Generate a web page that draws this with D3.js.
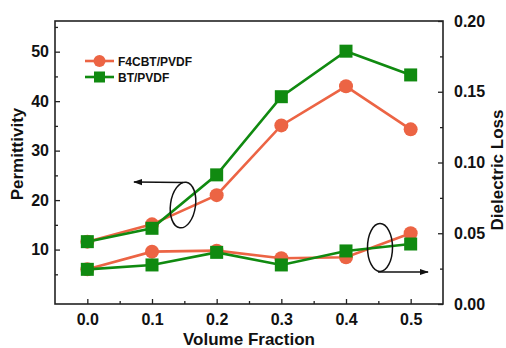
<!DOCTYPE html>
<html>
<head>
<script src="https://cdn.jsdelivr.net/npm/d3@7"></script>
<style>
  body { margin: 0; background: #fff; }
  svg text { font-family: "Liberation Sans", Arial, sans-serif; font-weight: bold; fill: #111; }
</style>
</head>
<body>
<script>
// volume fractions
var fractions = [0.0, 0.1, 0.2, 0.3, 0.4, 0.5];
// permittivity (left axis)
var permF4CBT = [11.6, 15.1, 21.0, 35.1, 43.0, 34.3];
var permBT = [11.6, 14.3, 25.1, 40.9, 50.1, 45.3];
// dielectric loss (right axis)
var lossF4CBT = [0.0245, 0.037, 0.0377, 0.0323, 0.033, 0.050];
var lossBT = [0.0245, 0.0276, 0.0365, 0.0276, 0.0375, 0.0424];

var xTicks = [0.0, 0.1, 0.2, 0.3, 0.4, 0.5];
var leftTicks = [10, 20, 30, 40, 50];
var rightTicks = [0.00, 0.05, 0.10, 0.15, 0.20];

var w = 506, h = 348;
var mLeft = 55, mRight = 443, mTop = 21, mBottom = 304;
var orange = "#ec6444", green = "#108a10";

var svg = d3.select("body").append("svg").attr("width", w).attr("height", h);

var x = d3.scaleLinear().domain([-0.05, 0.55]).range([mLeft, mRight]);
var yL = d3.scaleLinear().domain([-1, 56.2]).range([mBottom, mTop]);
var yR = d3.scaleLinear().domain([0, 0.2]).range([mBottom, mTop]);

// axes with inward ticks
function styleAxis(g) {
  g.select(".domain").remove();
  g.selectAll(".tick line").attr("stroke", "#222").attr("stroke-width", 1.3);
  g.selectAll(".tick text").attr("font-size", 16).attr("fill", "#111");
}

var xMinor = [0.05, 0.15, 0.25, 0.35, 0.45];
svg.append("g").attr("transform", "translate(0," + mBottom + ")")
  .call(d3.axisBottom(x).tickValues(xTicks).tickFormat(d3.format(".1f")).tickSizeInner(-5).tickPadding(10))
  .call(styleAxis);
svg.append("g").attr("transform", "translate(0," + mBottom + ")")
  .call(d3.axisBottom(x).tickValues(xMinor).tickFormat("").tickSizeInner(-3))
  .call(styleAxis);

svg.append("g").attr("transform", "translate(" + mLeft + ",0)")
  .call(d3.axisLeft(yL).tickValues(leftTicks).tickSizeInner(-5).tickPadding(6))
  .call(styleAxis);
svg.append("g").attr("transform", "translate(" + mLeft + ",0)")
  .call(d3.axisLeft(yL).tickValues([5, 15, 25, 35, 45, 55]).tickFormat("").tickSizeInner(-3))
  .call(styleAxis);

svg.append("g").attr("transform", "translate(" + mRight + ",0)")
  .call(d3.axisRight(yR).tickValues(rightTicks).tickFormat(d3.format(".2f")).tickSizeInner(-5).tickPadding(11))
  .call(styleAxis);
svg.append("g").attr("transform", "translate(" + mRight + ",0)")
  .call(d3.axisRight(yR).tickValues([0.025, 0.075, 0.125, 0.175]).tickFormat("").tickSizeInner(-3))
  .call(styleAxis);

// frame
svg.append("rect").attr("x", mLeft).attr("y", mTop)
  .attr("width", mRight - mLeft).attr("height", mBottom - mTop)
  .attr("fill", "none").attr("stroke", "#222").attr("stroke-width", 1.6);

// series
function drawSeries(vals, yScale, color, shape) {
  var pts = fractions.map(function(f, i) { return [x(f), yScale(vals[i])]; });
  svg.append("path").attr("d", d3.line()(pts))
    .attr("fill", "none").attr("stroke", color).attr("stroke-width", 2.6);
  if (shape === "circle") {
    svg.selectAll(null).data(pts).enter().append("circle")
      .attr("cx", function(d) { return d[0]; }).attr("cy", function(d) { return d[1]; })
      .attr("r", 7).attr("fill", color);
  } else {
    svg.selectAll(null).data(pts).enter().append("rect")
      .attr("x", function(d) { return d[0] - 6.5; }).attr("y", function(d) { return d[1] - 6.5; })
      .attr("width", 13).attr("height", 13).attr("fill", color);
  }
}
drawSeries(lossF4CBT, yR, orange, "circle");
drawSeries(lossBT, yR, green, "square");
drawSeries(permF4CBT, yL, orange, "circle");
drawSeries(permBT, yL, green, "square");

// legend
var legend = [["F4CBT/PVDF", orange, "circle"], ["BT/PVDF", green, "square"]];
legend.forEach(function(l, i) {
  var ly = 61 + i * 16;
  svg.append("line").attr("x1", 85).attr("x2", 114).attr("y1", ly).attr("y2", ly)
    .attr("stroke", l[1]).attr("stroke-width", 2.6);
  if (l[2] === "circle") svg.append("circle").attr("cx", 99.5).attr("cy", ly).attr("r", 6).attr("fill", l[1]);
  else svg.append("rect").attr("x", 94).attr("y", ly - 5.5).attr("width", 11).attr("height", 11).attr("fill", l[1]);
  svg.append("text").attr("x", 118).attr("y", ly + 4.5).attr("font-size", 12).text(l[0]);
});

// ellipses and arrows
var defs = svg.append("defs");
defs.append("marker").attr("id", "arr").attr("viewBox", "0 0 10 10").attr("refX", 9).attr("refY", 5)
  .attr("markerWidth", 7).attr("markerHeight", 7).attr("orient", "auto")
  .append("path").attr("d", "M0,1.5 L10,5 L0,8.5 z").attr("fill", "#111");

svg.append("ellipse").attr("cx", 183).attr("cy", 205).attr("rx", 12.5).attr("ry", 23)
  .attr("transform", "rotate(8,183,205)")
  .attr("fill", "none").attr("stroke", "#111").attr("stroke-width", 1.5);
svg.append("line").attr("x1", 183).attr("y1", 182.5).attr("x2", 134).attr("y2", 182)
  .attr("stroke", "#111").attr("stroke-width", 1.3).attr("marker-end", "url(#arr)");

svg.append("ellipse").attr("cx", 380).attr("cy", 247.5).attr("rx", 12.5).attr("ry", 24)
  .attr("fill", "none").attr("stroke", "#111").attr("stroke-width", 1.5);
svg.append("line").attr("x1", 378).attr("y1", 272).attr("x2", 428).attr("y2", 272)
  .attr("stroke", "#111").attr("stroke-width", 1.3).attr("marker-end", "url(#arr)");

// axis titles
svg.append("text").attr("x", (mLeft + mRight) / 2).attr("y", 345)
  .attr("text-anchor", "middle").attr("font-size", 17).text("Volume Fraction");
svg.append("text").attr("transform", "translate(23,154) rotate(-90)")
  .attr("text-anchor", "middle").attr("font-size", 17).text("Permittivity");
svg.append("text").attr("transform", "translate(503,170) rotate(-90)")
  .attr("text-anchor", "middle").attr("font-size", 17).text("Dielectric Loss");
</script>
</body>
</html>
